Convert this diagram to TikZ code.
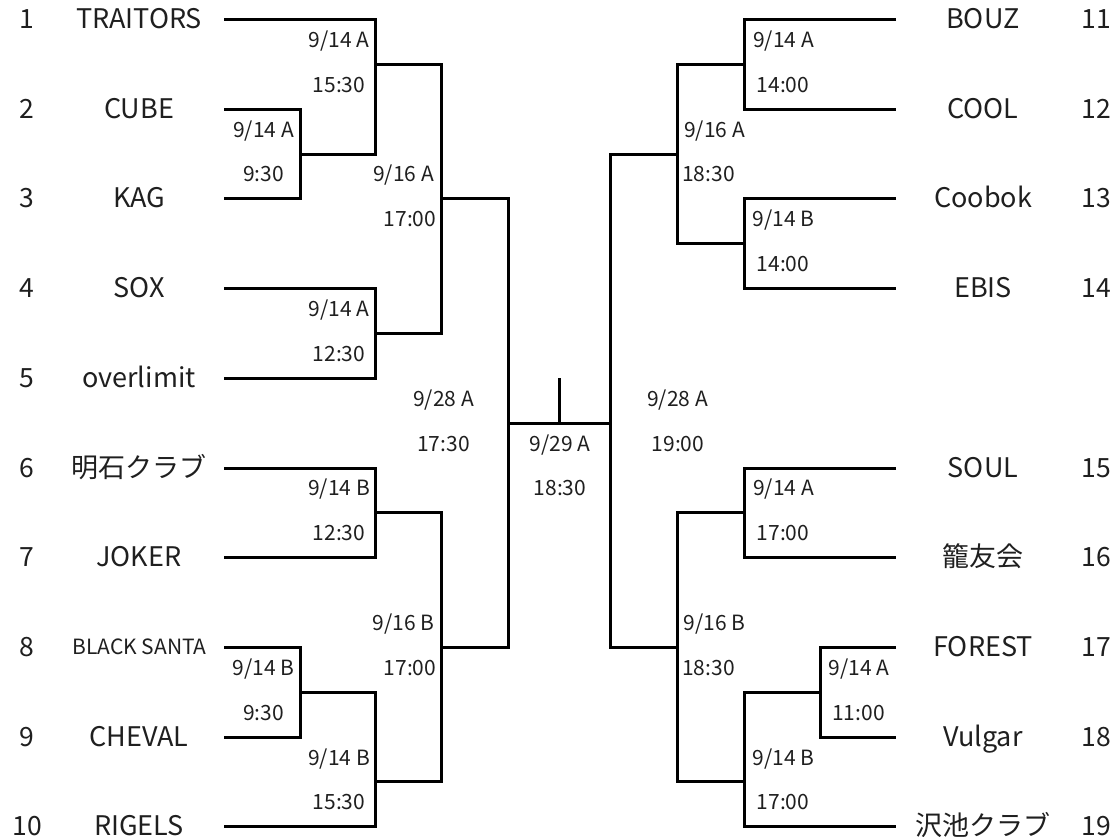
\documentclass[tikz,border=0pt]{standalone}
\usepackage{fontspec}
\setmainfont{Noto Sans CJK JP}
\begin{document}
\begin{tikzpicture}[x=1pt,y=-1pt,
  declare function={ry(\r)=19.5+44.85*\r;},
  num/.style={font=\fontsize{26.5}{30}\selectfont, anchor=base, inner sep=0pt, text=black!88},
  team/.style={font=\fontsize{27}{30}\selectfont, anchor=base, inner sep=0pt, text=black!88},
  smallteam/.style={font=\fontsize{21}{24}\selectfont, anchor=base, inner sep=0pt, text=black!88},
  lab/.style={font=\fontsize{21}{24}\selectfont, anchor=base, inner sep=0pt, text=black!88},
  br/.style={line width=3pt, line join=miter, black}]
\useasboundingbox (0,0) rectangle (1116,837);
% ---- team numbers and names, left
\node[num] (n1) at (27,{ry(0)+9}) {1};
\node[num] (n2) at (27,{ry(2)+9}) {2};
\node[num] (n3) at (27,{ry(4)+9}) {3};
\node[num] (n4) at (27,{ry(6)+9}) {4};
\node[num] (n5) at (27,{ry(8)+9}) {5};
\node[num] (n6) at (27,{ry(10)+9}) {6};
\node[num] (n7) at (27,{ry(12)+9}) {7};
\node[num] (n8) at (27,{ry(14)+9}) {8};
\node[num] (n9) at (27,{ry(16)+9}) {9};
\node[num] (n10) at (27,{ry(18)+9}) {10};
\node[team] (t1) at (139,{ry(0)+9}) {TRAITORS};
\node[team] (t2) at (139,{ry(2)+9}) {CUBE};
\node[team] (t3) at (139,{ry(4)+9}) {KAG};
\node[team] (t4) at (139,{ry(6)+9}) {SOX};
\node[team] (t5) at (139,{ry(8)+9}) {overlimit};
\node[team] (t6) at (139,{ry(10)+9}) {明石クラブ};
\node[team] (t7) at (139,{ry(12)+9}) {JOKER};
\node[smallteam] (t8) at (139.5,{ry(14)+7.5}) {BLACK SANTA};
\node[team] (t9) at (139,{ry(16)+9}) {CHEVAL};
\node[team] (t10) at (139,{ry(18)+9}) {RIGELS};
% ---- right
\node[num] (n11) at (1096,{ry(0)+9}) {11};
\node[num] (n12) at (1096,{ry(2)+9}) {12};
\node[num] (n13) at (1096,{ry(4)+9}) {13};
\node[num] (n14) at (1096,{ry(6)+9}) {14};
\node[num] (n15) at (1096,{ry(10)+9}) {15};
\node[num] (n16) at (1096,{ry(12)+9}) {16};
\node[num] (n17) at (1096,{ry(14)+9}) {17};
\node[num] (n18) at (1096,{ry(16)+9}) {18};
\node[num] (n19) at (1096,{ry(18)+9}) {19};
\node[team] (t11) at (983,{ry(0)+9}) {BOUZ};
\node[team] (t12) at (983,{ry(2)+9}) {COOL};
\node[team] (t13) at (983,{ry(4)+9}) {Coobok};
\node[team] (t14) at (983,{ry(6)+9}) {EBIS};
\node[team] (t15) at (983,{ry(10)+9}) {SOUL};
\node[team] (t16) at (983,{ry(12)+9}) {籠友会};
\node[team] (t17) at (983,{ry(14)+9}) {FOREST};
\node[team] (t18) at (983,{ry(16)+9}) {Vulgar};
\node[team] (t19) at (983,{ry(18)+9}) {沢池クラブ};
% ---- coordinates: team line ends
\foreach \i/\r in {1/0,2/2,3/4,4/6,5/8,6/10,7/12,8/14,9/16,10/18}{
  \coordinate (e\i) at (224,{ry(\r)});}
\foreach \i/\r in {11/0,12/2,13/4,14/6,15/10,16/12,17/14,18/16,19/18}{
  \coordinate (e\i) at (896,{ry(\r)});}
% match joints
\coordinate (a1) at (300,{ry(3)});     % 2 v 3
\coordinate (a2) at (375.5,{ry(1)});   % 1 v a1
\coordinate (a3) at (375.5,{ry(7)});   % 4 v 5
\coordinate (a4) at (441,{ry(4)});     % a2 v a3
\coordinate (a5) at (375.5,{ry(11)});  % 6 v 7
\coordinate (a6) at (300,{ry(15)});    % 8 v 9
\coordinate (a7) at (375.5,{ry(17)});  % a6 v 10
\coordinate (a8) at (441,{ry(14)});    % a5 v a7
\coordinate (sl) at (508,{ry(9)});     % left semi
\coordinate (fin) at (559,{ry(9)});    % final
\coordinate (top) at (559,{ry(8)});
\coordinate (sr) at (610,{ry(9)});     % right semi
\coordinate (b1) at (744,{ry(1)});     % 11 v 12
\coordinate (b2) at (744,{ry(5)});     % 13 v 14
\coordinate (b3) at (677,{ry(3)});     % b1 v b2
\coordinate (b4) at (744,{ry(11)});    % 15 v 16
\coordinate (b5) at (820,{ry(15)});    % 17 v 18
\coordinate (b6) at (744,{ry(17)});    % b5 v 19
\coordinate (b7) at (677,{ry(14)});    % b4 v b6
% ---- left bracket
\draw[br] (e2) -| (a1) |- (e3);
\draw[br] (e1) -| (a2 |- a1) -- (a1);
\draw[br] (e4) -| (a3) |- (e5);
\draw[br] (a2) -| (a4 |- a3) -- (a3);
\draw[br] (e6) -| (a5) |- (e7);
\draw[br] (e8) -| (a6) |- (e9);
\draw[br] (a6) -| (a7) |- (e10);
\draw[br] (a5) -| (a8) |- (a7);
\draw[br] (a4) -| (sl |- a8) -- (a8);
\draw[br] (sl) -- (sr);
\draw[br] (fin) -- (top);
% ---- right bracket
\draw[br] (e11) -| (b1) |- (e12);
\draw[br] (e13) -| (b2) |- (e14);
\draw[br] (b1) -| (b3) |- (b2);
\draw[br] (e15) -| (b4) |- (e16);
\draw[br] (e17) -| (b5) |- (e18);
\draw[br] (b5) -| (b6) |- (e19);
\draw[br] (b4) -| (b7) |- (b6);
\draw[br] (b3) -| (sr |- b7) -- (b7);
% ---- match labels
\node[lab] (l1a) at (339,{ry(0.5)+5.5}) {9/14 A};
\node[lab] (l1b) at (339,{ry(1.5)+5.5}) {15:30};
\node[lab] (l2a) at (263.5,{ry(2.5)+5.5}) {9/14 A};
\node[lab] (l2b) at (263.5,{ry(3.5)+5.5}) {9:30};
\node[lab] (l3a) at (403.5,{ry(3.5)+5.5}) {9/16 A};
\node[lab] (l3b) at (410,{ry(4.5)+5.5}) {17:00};
\node[lab] (l4a) at (339,{ry(6.5)+5.5}) {9/14 A};
\node[lab] (l4b) at (339,{ry(7.5)+5.5}) {12:30};
\node[lab] (l5a) at (443.5,{ry(8.5)+5.5}) {9/28 A};
\node[lab] (l5b) at (443.5,{ry(9.5)+5.5}) {17:30};
\node[lab] (l6a) at (339,{ry(10.5)+5.5}) {9/14 B};
\node[lab] (l6b) at (339,{ry(11.5)+5.5}) {12:30};
\node[lab] (l7a) at (403.5,{ry(13.5)+5.5}) {9/16 B};
\node[lab] (l7b) at (410,{ry(14.5)+5.5}) {17:00};
\node[lab] (l8a) at (263.5,{ry(14.5)+5.5}) {9/14 B};
\node[lab] (l8b) at (263.5,{ry(15.5)+5.5}) {9:30};
\node[lab] (l9a) at (339,{ry(16.5)+5.5}) {9/14 B};
\node[lab] (l9b) at (339,{ry(17.5)+5.5}) {15:30};
\node[lab] (fa) at (560,{ry(9.5)+5.5}) {9/29 A};
\node[lab] (fb) at (560,{ry(10.5)+5.5}) {18:30};
\node[lab] (r5a) at (677.5,{ry(8.5)+5.5}) {9/28 A};
\node[lab] (r5b) at (678,{ry(9.5)+5.5}) {19:00};
\node[lab] (r1a) at (783.5,{ry(0.5)+5.5}) {9/14 A};
\node[lab] (r1b) at (783,{ry(1.5)+5.5}) {14:00};
\node[lab] (r3a) at (714.5,{ry(2.5)+5.5}) {9/16 A};
\node[lab] (r3b) at (708.5,{ry(3.5)+5.5}) {18:30};
\node[lab] (r2a) at (783.5,{ry(4.5)+5.5}) {9/14 B};
\node[lab] (r2b) at (783,{ry(5.5)+5.5}) {14:00};
\node[lab] (r4a) at (783.5,{ry(10.5)+5.5}) {9/14 A};
\node[lab] (r4b) at (783,{ry(11.5)+5.5}) {17:00};
\node[lab] (r7a) at (714.5,{ry(13.5)+5.5}) {9/16 B};
\node[lab] (r7b) at (708.5,{ry(14.5)+5.5}) {18:30};
\node[lab] (r6a) at (859,{ry(14.5)+5.5}) {9/14 A};
\node[lab] (r6b) at (858.5,{ry(15.5)+5.5}) {11:00};
\node[lab] (r8a) at (783.5,{ry(16.5)+5.5}) {9/14 B};
\node[lab] (r8b) at (783,{ry(17.5)+5.5}) {17:00};
\end{tikzpicture}
\end{document}
